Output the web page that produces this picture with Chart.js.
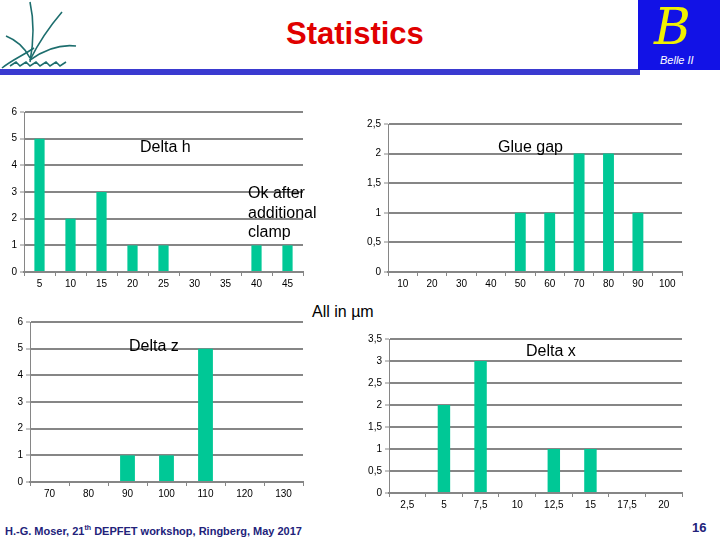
<!DOCTYPE html>
<html>
<head>
<meta charset="utf-8">
<script src="https://cdn.jsdelivr.net/npm/chart.js@4"></script>
<style>
   body { margin: 0; background: #fff; }
   #slide { position: relative; width: 720px; height: 540px; overflow: hidden; font-family: Arial, "Liberation Sans", sans-serif; }
   canvas { position: absolute; }
   .txt { position: absolute; font-size: 16px; color: #000; white-space: nowrap; z-index: 2; }
</style>
</head>
<body>
<div id="slide">
   <svg style="position:absolute;left:0;top:0" width="90" height="72">
      <g fill="none" stroke="#1d6e6e" stroke-width="1.6">
         <path d="M30 2 C34 20 34 40 30 62"/>
         <path d="M62 12 C50 26 40 40 30 60"/>
         <path d="M6 36 C16 40 24 46 30 58"/>
         <path d="M76 46 C60 44 44 50 30 60"/>
         <path d="M2 68 C12 60 22 56 34 48"/>
         <path d="M10 66 l6 -4 l4 4 l6 -4 l4 4 l6 -4 l4 4 l6 -4 l4 4 l6 -4 l4 4 l6 -4"/>
      </g>
   </svg>
   <span style="position:absolute;left:286px;top:16px;font-size:31px;font-weight:bold;color:#e00000;">Statistics</span>
   <div style="position:absolute;left:0;top:69px;width:640px;height:6px;background:#3a3ad0;"></div>
   <div style="position:absolute;left:638px;top:0;width:82px;height:70px;background:#1212e6;">
      <span style="position:absolute;left:16px;top:-2px;font-size:50px;font-style:italic;color:#f0f000;font-family:'DejaVu Serif',serif;">B</span>
      <span style="position:absolute;left:22px;top:54px;font-size:11px;font-style:italic;color:#fff;">Belle II</span>
   </div>

   <canvas id="chart_h" style="left:0px;top:103px;" width="307" height="193"></canvas>
   <canvas id="chart_gap" style="left:358px;top:115px;" width="328" height="181"></canvas>
   <canvas id="chart_z" style="left:6px;top:313px;" width="301" height="193"></canvas>
   <canvas id="chart_x" style="left:359px;top:330px;" width="327" height="187"></canvas>

   <div class="txt" style="left:140px;top:138px;">Delta h</div>
   <div class="txt" style="left:498px;top:138px;">Glue gap</div>
   <div class="txt" style="left:248px;top:183px;line-height:19.5px;">Ok after<br>additional<br>clamp</div>
   <div class="txt" style="left:312px;top:303px;">All in µm</div>
   <div class="txt" style="left:129px;top:337px;">Delta z</div>
   <div class="txt" style="left:526px;top:342px;">Delta x</div>

   <div style="position:absolute;left:5px;top:524px;font-size:11px;font-weight:bold;color:#22227a;font-family:'Liberation Sans Narrow',Arial,sans-serif;">H.-G. Moser, 21<sup style="font-size:7px;">th</sup> DEPFET workshop, Ringberg, May 2017</div>
   <div style="position:absolute;left:692px;top:520px;font-size:13px;font-weight:bold;color:#22227a;">16</div>
</div>
<script>
// Delta h
const hCats = ['5', '10', '15', '20', '25', '30', '35', '40', '45'];
const hCounts = [5, 2, 3, 1, 1, 0, 0, 1, 1];
// Glue gap
const gapCats = ['10', '20', '30', '40', '50', '60', '70', '80', '90', '100'];
const gapCounts = [0, 0, 0, 0, 1, 1, 2, 2, 1, 0];
// Delta z
const zCats = ['70', '80', '90', '100', '110', '120', '130'];
const zCounts = [0, 0, 1, 1, 5, 0, 0];
// Delta x
const xCats = ['2,5', '5', '7,5', '10', '12,5', '15', '17,5', '20'];
const xCounts = [0, 2, 3, 0, 1, 1, 0, 0];

const barColor = '#00c896';
const gridColor = '#868686';

function histo(id, labels, data, yMax, yStep, yWidth, barPct) {
   var ctx = document.getElementById(id);
   new Chart(ctx, {
      type: 'bar',
      data: {
         labels: labels,
         datasets: [{
            data: data,
            backgroundColor: barColor,
            borderWidth: 0,
            barPercentage: barPct,
            categoryPercentage: 1
         }]
      },
      options: {
         responsive: false,
         animation: false,
         plugins: { legend: { display: false }, tooltip: { enabled: false } },
         layout: { padding: { top: 8, right: 4, left: 0, bottom: 0 } },
         scales: {
            x: {
               grid: { offset: true, drawOnChartArea: false, drawTicks: true, tickLength: 4, color: gridColor, lineWidth: 1 },
               border: { display: true, color: gridColor, width: 2 },
               ticks: { color: '#000', font: { family: 'Arial', size: 10 }, padding: 2, maxRotation: 0, autoSkip: false },
               afterFit: function (scale) { scale.height = 24; }
            },
            y: {
               min: 0,
               max: yMax,
               grid: { color: gridColor, lineWidth: 2, tickLength: 4, tickColor: gridColor, tickWidth: 1 },
               border: { display: true, color: gridColor, width: 1 },
               ticks: {
                  stepSize: yStep,
                  color: '#000',
                  font: { family: 'Arial', size: 10 },
                  padding: 3,
                  callback: function (v) { return String(v).replace('.', ','); }
               },
               afterFit: function (scale) { scale.width = yWidth; }
            }
         }
      }
   });
}

histo('chart_h', hCats, hCounts, 6, 1, 24, 0.33);
histo('chart_gap', gapCats, gapCounts, 2.5, 0.5, 30, 0.37);
histo('chart_z', zCats, zCounts, 6, 1, 24, 0.38);
histo('chart_x', xCats, xCounts, 3.5, 0.5, 30, 0.34);
</script>
</body>
</html>
